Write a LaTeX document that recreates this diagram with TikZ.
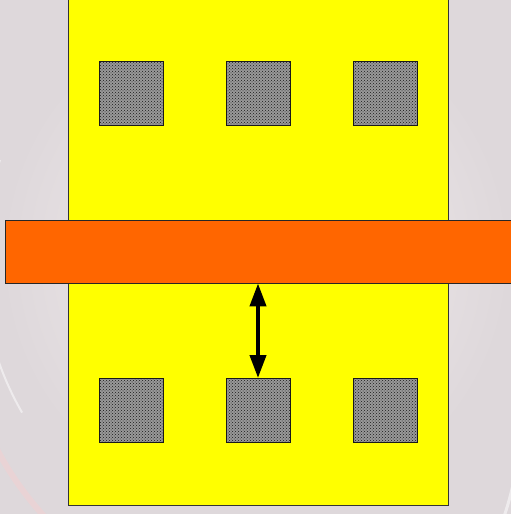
\documentclass[tikz,border=0pt]{standalone}
\usetikzlibrary{patterns,arrows.meta}
\definecolor{plate}{RGB}{255,255,0}
\definecolor{bar}{RGB}{255,102,0}
\definecolor{bgA}{RGB}{244,238,240}
\definecolor{bgB}{RGB}{222,216,219}
\tikzset{
  px/.style={x=1pt,y=-1pt},
  pad/.style={draw=black!90,line width=1pt,fill=black!40,
    postaction={pattern=crosshatch dots,pattern color=black!90},
    minimum width=64pt,minimum height=64pt,inner sep=0pt,outer sep=0pt},
  gap/.style={line width=4pt,{Triangle[width=16pt,length=23pt]}-{Triangle[width=16pt,length=23pt]}}
}
\begin{document}
\begin{tikzpicture}[px]
\useasboundingbox (0,0) rectangle (511,514);
\shade[inner color=bgA,outer color=bgB] (0,0) rectangle (511,514);
\draw[white!80!red,opacity=0.35,line width=6pt] (-40,300) arc[start angle=180,end angle=100,radius=320];
\draw[white,opacity=0.5,line width=3pt] (520,420) arc[start angle=0,end angle=70,radius=300];
\draw[white,opacity=0.5,line width=2pt] (0,160) arc[start angle=200,end angle=150,radius=300];
\node[draw=black!80,line width=0.8pt,fill=plate,minimum width=380pt,minimum height=508pt,inner sep=0pt] (plate) at (258,251) {};
\node[draw=black!85,line width=0.8pt,fill=bar,minimum width=512pt,minimum height=63pt,inner sep=0pt,anchor=west] (bar) at (4.5,251.5) {};
\node[pad] (a1) at (131,93) {};
\node[pad] (a2) at (258,93) {};
\node[pad] (a3) at (385,93) {};
\node[pad] (b1) at (131,410) {};
\node[pad] (b2) at (258,410) {};
\node[pad] (b3) at (385,410) {};
\draw[gap] (bar.south -| b2.north) -- (b2.north);
\end{tikzpicture}
\end{document}
